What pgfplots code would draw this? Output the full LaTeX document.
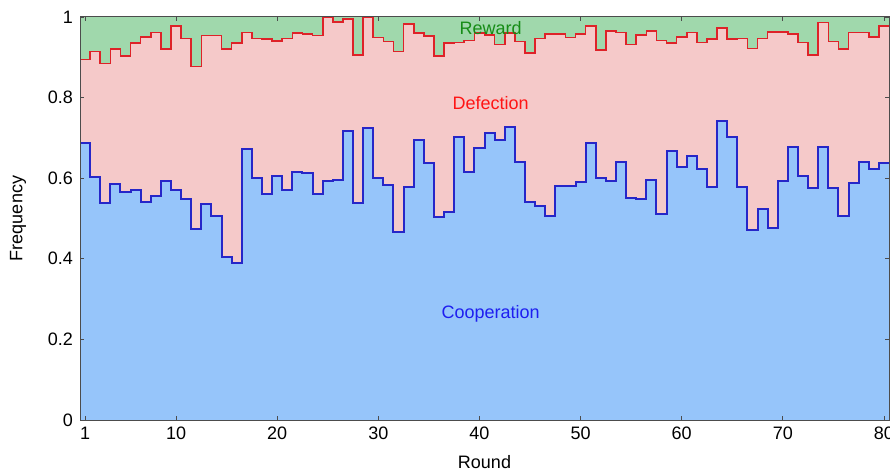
\documentclass[border=0pt]{standalone}
\usepackage{pgfplots}
\pgfplotsset{compat=1.18}
\usepackage{pgfplotstable}
\usepackage{fontspec}
\setmainfont{Liberation Sans}
\definecolor{coopfill}{RGB}{150,197,250}
\definecolor{defefill}{RGB}{245,201,201}
\definecolor{rewfill}{RGB}{160,216,172}
\definecolor{coopline}{RGB}{38,38,200}
\definecolor{defeline}{RGB}{222,34,40}
\definecolor{cooptext}{RGB}{30,30,240}
\definecolor{defetext}{RGB}{255,20,20}
\definecolor{rewtext}{RGB}{22,140,22}

\pgfplotstableread{
r c t
1 0.688 0.895
2 0.602 0.914
3 0.538 0.885
4 0.586 0.921
5 0.567 0.903
6 0.571 0.936
7 0.540 0.951
8 0.556 0.962
9 0.594 0.921
10 0.571 0.978
11 0.548 0.947
12 0.473 0.877
13 0.536 0.954
14 0.506 0.954
15 0.404 0.920
16 0.390 0.935
17 0.672 0.962
18 0.600 0.947
19 0.562 0.945
20 0.605 0.941
21 0.571 0.947
22 0.616 0.961
23 0.612 0.958
24 0.561 0.954
25 0.593 1.000
26 0.596 0.988
27 0.717 0.995
28 0.538 0.906
29 0.724 1.000
30 0.601 0.949
31 0.582 0.939
32 0.467 0.914
33 0.577 0.983
34 0.695 0.961
35 0.637 0.953
36 0.504 0.903
37 0.515 0.935
38 0.703 0.937
39 0.616 0.942
40 0.676 0.961
41 0.713 0.955
42 0.695 0.932
43 0.728 0.961
44 0.639 0.939
45 0.542 0.910
46 0.532 0.947
47 0.506 0.958
48 0.581 0.958
49 0.581 0.949
50 0.591 0.958
51 0.687 0.978
52 0.600 0.918
53 0.594 0.965
54 0.639 0.962
55 0.552 0.932
56 0.548 0.955
57 0.596 0.965
58 0.511 0.942
59 0.667 0.935
60 0.629 0.951
61 0.655 0.962
62 0.622 0.937
63 0.579 0.945
64 0.743 0.972
65 0.703 0.945
66 0.577 0.947
67 0.471 0.922
68 0.524 0.947
69 0.476 0.963
70 0.594 0.963
71 0.678 0.958
72 0.606 0.937
73 0.575 0.906
74 0.678 0.986
75 0.575 0.939
76 0.506 0.920
77 0.589 0.962
78 0.639 0.962
79 0.622 0.951
80 0.637 0.978
81 0.637 0.978
}\data

\begin{document}
\begin{tikzpicture}[font=\fontsize{9bp}{11bp}\selectfont]
\begin{axis}[
  scale only axis,
  width=404.5bp, height=201.5bp,
  xmin=0.5, xmax=80.5, ymin=0, ymax=1,
  axis background/.style={fill=rewfill},
  axis on top,
  xtick={1,10,20,30,40,50,60,70,80},
  ytick={0,0.2,0.4,0.6,0.8,1},
  tick align=inside,
  major tick length=2bp,
  tick style={black!70, line width=0.4bp},
  axis line style={black!70, line width=0.5bp},
  /pgf/number format/assume math mode=true,
  yticklabel style={/pgf/number format/fixed},
  xlabel={Round}, ylabel={Frequency},
  xlabel style={at={(rel axis cs:0.5,-0.104)}, anchor=center},
  ylabel style={at={(rel axis cs:-0.0766,0.5)}, anchor=center},
]
\addplot[fill=defefill, draw=none, const plot mark left] table[x expr=\thisrow{r}-0.5, y=t] {\data} \closedcycle;
\addplot[fill=coopfill, draw=none, const plot mark left] table[x expr=\thisrow{r}-0.5, y=c] {\data} \closedcycle;
\addplot[defeline, line width=0.8bp, const plot mark left] table[x expr=\thisrow{r}-0.5, y=t] {\data};
\addplot[coopline, line width=1bp, const plot mark left] table[x expr=\thisrow{r}-0.5, y=c] {\data};
\node[text=rewtext] at (axis cs:41.1,0.973) {Reward};
\node[text=defetext] at (axis cs:41.1,0.787) {Defection};
\node[text=cooptext] at (axis cs:41.1,0.263) {Cooperation};
\coordinate (sw) at (rel axis cs:0,0);
\coordinate (ne) at (rel axis cs:1,1);
\end{axis}
\pgfresetboundingbox
\path[use as bounding box] ([shift={(-40bp,-26bp)}]sw) rectangle ([shift={(0.5bp,8.5bp)}]ne);
\end{tikzpicture}
\end{document}
